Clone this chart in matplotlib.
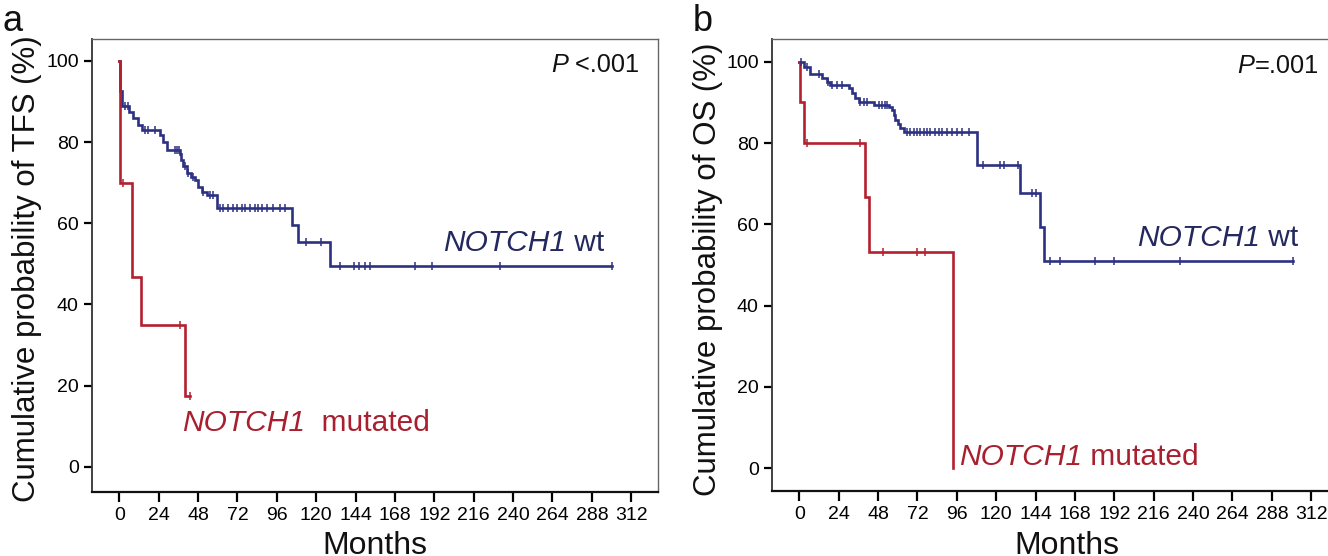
import numpy as np
import matplotlib
matplotlib.use("Agg")
import matplotlib.pyplot as plt

plt.rcParams['font.family'] = ['Liberation Sans', 'DejaVu Sans']

# ---------------- data ----------------
# Panel a: TFS, NOTCH1 wt
a_wt_t = [0, 0.3, 1.4, 6, 8.5, 11.6, 13.6, 24.8, 26.8, 29.3, 36.8, 37.5, 39, 41, 44, 46, 48.2, 50.2,
          53.3, 59.4, 105, 109, 128.5]
a_wt_s = [100, 92.5, 89, 87.5, 85.9, 84.2, 83.0, 81.8, 80.1, 78.1, 77, 75.6, 74, 72.3, 71.5, 70.7, 69,
          67.8, 67, 63.7, 59.6, 55.5, 49.6]
a_wt_end = 300
a_wt_cens = [3.4, 5.4, 15.7, 17.7, 21.8, 34, 35.4, 36.4, 40, 42, 45, 51, 55.3, 57.3,
             61.4, 63.4, 66.5, 69.5, 71.6, 74.6, 76.6, 79.7, 82.7, 84.8, 86.8, 89.9, 93.9, 98, 101,
             114, 123, 134.6, 143, 145.8, 150, 153, 180, 190.5, 232, 300]

# Panel a: TFS, NOTCH1 mutated
a_mut_t = [0, 0.5, 7.5, 8.0, 13, 40]
a_mut_s = [100, 70, 58.3, 46.7, 35, 17.5]
a_mut_end = 43
a_mut_cens = [2.4, 37, 43]

# Panel b: OS, NOTCH1 wt
b_wt_t = [0, 2.6, 6.7, 13.8, 16.9, 18.5, 30.1, 32.1, 34.1, 36.2, 45.3, 54.5, 56.5, 57.5, 58.5, 60,
          61.6, 63.6, 108.3, 134.8, 147, 149]
b_wt_s = [100, 98.8, 97.1, 95.9, 95.1, 94.3, 93.5, 92.2, 91.0, 90.2, 89.4, 88.9, 88.1, 86.9, 85.7,
          84.7, 83.6, 82.8, 74.6, 67.7, 59.3, 51.0]
b_wt_end = 301
b_wt_cens = [1, 4.7, 11.8, 17.5, 19.9, 23, 26, 37.2, 39.2, 41.3, 48.4, 50.4, 52.4, 53.5,
             65.7, 67.7, 69.7, 71.8, 73.8, 75.8, 77.9, 79.9, 82.9, 84.9, 87, 90, 93.1, 96.2, 99.2, 103.2,
             112, 122.6, 124.5, 133.5, 142, 144, 153, 159, 180.5, 191.6, 232, 301]

# Panel b: OS, NOTCH1 mutated
b_mut_t = [0, 0.5, 2.6, 40.2, 42.3, 93.7]
b_mut_s = [100, 90, 80, 66.7, 53.3, 0]
b_mut_end = 93.7
b_mut_cens = [4.7, 37, 51.2, 71.5, 76.6]

x_ticks = list(range(0, 313, 24))
y_ticks = [0, 20, 40, 60, 80, 100]

BLUE = '#2d3182'
RED = '#b3202f'
BLUE_TXT = '#23285e'
RED_TXT = '#a8202f'
INK = '#111111'

W, H = 1328, 556
fig = plt.figure(figsize=(W / 100, H / 100), dpi=100)


def px_axes(l, r, t, b):
    return fig.add_axes([l / W, 1 - b / H, (r - l) / W, (b - t) / H])


def km(ax, t, s, end, cens, color):
    tt = list(t) + [end]
    ss = list(s) + [s[-1]]
    ax.step(tt, ss, where='post', color=color, lw=1.9, solid_joinstyle='miter', zorder=3)
    cy = [s[np.searchsorted(t, c, side='right') - 1] for c in cens]
    ax.plot(cens, cy, ls='none', marker='|', ms=6, mew=1.1, color=color, zorder=4)


def style(ax, ylim):
    ax.set_xlim(-16.6, 328.3)
    ax.set_ylim(*ylim)
    ax.set_xticks(x_ticks)
    ax.set_yticks(y_ticks)
    ax.tick_params(axis='x', length=7, width=1.6, pad=3.5, labelsize=14, direction='out')
    ax.tick_params(axis='y', length=6, width=1.6, pad=3.5, labelsize=14, direction='out')
    ax.spines['left'].set_linewidth(1.3)
    ax.spines['left'].set_color('#333333')
    ax.spines['bottom'].set_linewidth(1.6)
    ax.spines['bottom'].set_color('#111111')
    for sp in ('top', 'right'):
        ax.spines[sp].set_linewidth(1.0)
        ax.spines[sp].set_color('#666666')


def mixed(ax, x, y, parts, size, color):
    """parts: list of (text, italic) drawn on one baseline, starting at data (x, y)."""
    first, it0 = parts[0]
    prev = ax.text(x, y, first, ha='left', va='bottom', fontsize=size, color=color,
                   fontstyle='italic' if it0 else 'normal')
    for txt, it in parts[1:]:
        prev = ax.annotate(txt, xy=(1, 0), xycoords=prev, ha='left', va='bottom', fontsize=size,
                           color=color, fontstyle='italic' if it else 'normal')


# ---------- panel a ----------
axa = px_axes(92, 658, 39, 492)
km(axa, a_wt_t, a_wt_s, a_wt_end, a_wt_cens, BLUE)
km(axa, a_mut_t, a_mut_s, a_mut_end, a_mut_cens, RED)
style(axa, (-6.2, 105.4))
mixed(axa, 263.0, 96.0, [('P', True), (' <.001', False)], 18.3, INK)
mixed(axa, 197.2, 51.6, [('NOTCH1', True), (' wt', False)], 21.5, BLUE_TXT)
mixed(axa, 38, 7.3, [('NOTCH1', True), ('  mutated', False)], 21.5, RED_TXT)

# ---------- panel b ----------
axb = px_axes(772, 1338, 39, 491)
km(axb, b_wt_t, b_wt_s, b_wt_end, b_wt_cens, BLUE)
km(axb, b_mut_t, b_mut_s, b_mut_end, b_mut_cens, RED)
style(axb, (-5.6, 105.6))
mixed(axb, 267.0, 96.0, [('P', True), ('=.001', False)], 18.3, INK)
mixed(axb, 205.7, 53.1, [('NOTCH1', True), (' wt', False)], 21.5, BLUE_TXT)
mixed(axb, 97.6, -0.6, [('NOTCH1', True), (' mutated', False)], 21.5, RED_TXT)

# ---------- labels ----------
fig.text(27 / W, 1 - 269 / H, 'Cumulative probability of TFS (%)', rotation=90,
         ha='center', va='center', fontsize=22.5, color=INK)
fig.text(708 / W, 1 - 269 / H, 'Cumulative probability of OS (%)', rotation=90,
         ha='center', va='center', fontsize=22.5, color=INK)
fig.text(375 / W, 1 - 554 / H, 'Months', ha='center', va='baseline', fontsize=23, color=INK)
fig.text(1067 / W, 1 - 554 / H, 'Months', ha='center', va='baseline', fontsize=23, color=INK)
fig.text(2 / W, 1 - 31 / H, 'a', ha='left', va='baseline', fontsize=26, color=INK)
fig.text(693 / W, 1 - 31 / H, 'b', ha='left', va='baseline', fontsize=26, color=INK)

fig.savefig('out.png', dpi=100)
